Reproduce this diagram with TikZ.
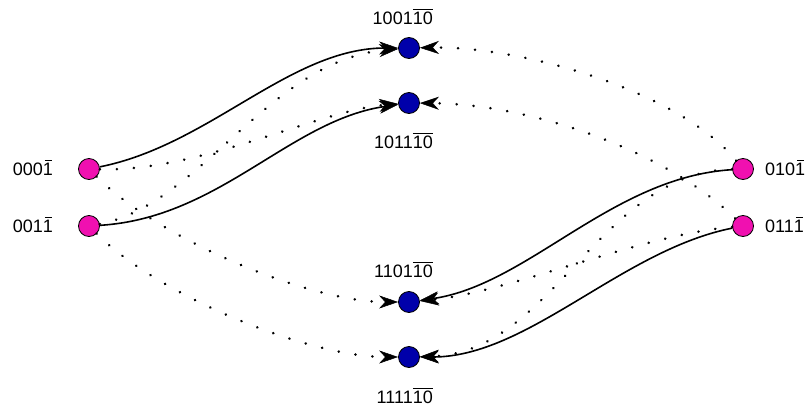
\documentclass[tikz,border=0pt]{standalone}
\usepackage{fontspec}
\setmainfont{Liberation Sans}
\usetikzlibrary{arrows.meta}
\definecolor{pinkc}{RGB}{240,16,176}
\definecolor{bluec}{RGB}{0,0,170}
\newcommand\ovl[1]{\vbox{\hrule height 1.1pt\kern 1.5pt\hbox{#1}}}
\newcommand\ovlone{\rlap{\hspace{2pt}\raisebox{14.4pt}{\rule{7pt}{1.1pt}}}1}
\begin{document}
\begin{tikzpicture}[x=1pt,y=-1pt,
  srcnode/.style={circle,draw=black,line width=0.8pt,fill=pinkc,minimum size=21pt,inner sep=0pt},
  dstnode/.style={circle,draw=black,line width=0.8pt,fill=bluec,minimum size=21pt,inner sep=0pt},
  lbl/.style={font=\fontsize{18}{20}\selectfont,inner sep=0pt},
  tipstyle/.style={-{Stealth[length=19pt,width=13pt,inset=6pt,line cap=butt,line width=0.5pt]}},
  soledge/.style={line width=1.6pt,tipstyle},
  dotedge/.style={line width=2.8pt,line cap=round,dash pattern=on 0.01pt off 17pt,tipstyle}]
\useasboundingbox (0,0) rectangle (807,407);
% nodes
\node[srcnode] (A) at (89,169) {};
\node[srcnode] (B) at (89,226) {};
\node[srcnode] (G) at (743,169) {};
\node[srcnode] (H) at (743,226) {};
\node[dstnode] (C) at (409,48) {};
\node[dstnode] (D) at (409,103) {};
\node[dstnode] (E) at (409,302) {};
\node[dstnode] (F) at (409,357) {};
% labels
\node[lbl,anchor=base east] (la) at (53,175) {000\ovlone};
\node[lbl,anchor=base east] (lb) at (53,232) {001\ovlone};
\node[lbl,anchor=base west] (lg) at (765,175) {010\ovlone};
\node[lbl,anchor=base west] (lh) at (765,232) {011\ovlone};
\node[lbl,anchor=base east] (lc) at (433,24.3) {1001\ovl{10}};
\node[lbl,anchor=base east] (ld) at (433,148.5) {1011\ovl{10}};
\node[lbl,anchor=base east] (le) at (433,277.3) {1101\ovl{10}};
\node[lbl,anchor=base east] (lf) at (433,403) {1111\ovl{10}};
% solid edges
\draw[soledge] (A) .. controls +(121,-24) and +(-119,0) .. (C);
\draw[soledge] (B) .. controls +(131,-8) and +(-119,17) .. (D);
\draw[soledge] (G) .. controls +(-131,8) and +(119,-17) .. (E);
\draw[soledge] (H) .. controls +(-121,24) and +(119,0) .. (F);
% dotted edges
\draw[dotedge] (A) .. controls +(111,3) and +(-89,7) .. (D);
\draw[dotedge] (B) .. controls +(111,-21) and +(-139,12) .. (C);
\draw[dotedge] (A) .. controls +(71,71) and +(-99,0) .. (E);
\draw[dotedge] (B) .. controls +(71,71) and +(-99,0) .. (F);
\draw[dotedge] (G) .. controls +(-65,-79) and +(111,-2) .. (C);
\draw[dotedge] (H) .. controls +(-78,-76) and +(121,1) .. (D);
\draw[dotedge] (G) .. controls +(-143,3) and +(143,-4) .. (F);
\draw[dotedge] (H) .. controls +(-103,9) and +(101,-10) .. (E);
\end{tikzpicture}
\end{document}
